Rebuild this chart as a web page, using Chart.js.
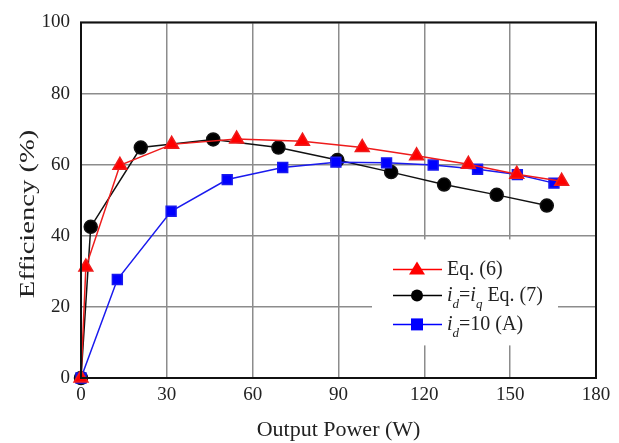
<!DOCTYPE html>
<html>
<head>
<meta charset="utf-8">
<script src="https://cdn.jsdelivr.net/npm/chart.js@4.4.0/dist/chart.umd.min.js"></script>
<style>
  html, body { margin: 0; padding: 0; background: #fff; }
  #wrap { width: 619px; height: 443px; position: relative; }
</style>
</head>
<body>
<div id="wrap"><canvas id="chart" width="619" height="443"></canvas></div>
<script>
// Eq. (6)
const eq6X = [0, 1.7, 13.6, 31.7, 54.4, 77.4, 98.3, 117.3, 135.4, 152.3, 168];
const eq6Y = [0, 31.2, 59.8, 65.7, 67.2, 66.6, 64.8, 62.5, 60.1, 57.3, 55.3];
// id = iq Eq. (7)
const eq7X = [0, 3.4, 20.9, 46.2, 69, 89.6, 108.4, 126.9, 145.3, 162.8];
const eq7Y = [0, 42.5, 64.8, 67.1, 64.8, 61.3, 57.9, 54.4, 51.5, 48.5];
// id = 10 (A)
const id10X = [0, 12.7, 31.5, 51.1, 70.5, 89.1, 106.8, 123.1, 138.6, 152.5, 165.3];
const id10Y = [0, 27.7, 46.9, 55.8, 59.2, 60.7, 60.5, 59.9, 58.7, 57.2, 54.8];

const xTicks = [0, 30, 60, 90, 120, 150, 180];
const yTicks = [0, 20, 40, 60, 80, 100];

const SERIF = '"Liberation Serif", "Times New Roman", serif';

function pts(xs, ys) {
    return xs.map(function (x, i) { return { x: x, y: ys[i] }; });
}

// frame around the plot, y title and the boxed legend
const decor = {
    id: 'decor',
    afterDatasetsDraw(chart) {
        const ctx = chart.ctx;
        const a = chart.chartArea;
        ctx.save();

        // legend box
        const bx = a.left + 291, by = a.top + 217, bw = 186, bh = 106;
        ctx.fillStyle = '#fff';
        ctx.fillRect(bx, by, bw, bh);

        const rows = [
            { color: '#ff0000', shape: 'triangle', y: by + 30 },
            { color: '#000000', shape: 'circle', y: by + 56 },
            { color: '#0000ff', shape: 'square', y: by + 85 }
        ];
        const lx0 = bx + 21, lx1 = bx + 70, mx = bx + 45, tx = bx + 75;
        rows.forEach(function (r) {
            ctx.strokeStyle = r.color;
            ctx.lineWidth = 1.5;
            ctx.beginPath();
            ctx.moveTo(lx0, r.y);
            ctx.lineTo(lx1, r.y);
            ctx.stroke();
            ctx.fillStyle = r.color;
            ctx.beginPath();
            if (r.shape === 'triangle') {
                ctx.moveTo(mx, r.y - 8);
                ctx.lineTo(mx + 8, r.y + 5);
                ctx.lineTo(mx - 8, r.y + 5);
                ctx.closePath();
            } else if (r.shape === 'circle') {
                ctx.arc(mx, r.y, 6, 0, Math.PI * 2);
            } else {
                ctx.rect(mx - 6, r.y - 6, 12, 12);
            }
            ctx.fill();
        });

        ctx.fillStyle = '#222';
        ctx.textBaseline = 'middle';
        ctx.textAlign = 'left';
        const big = '20px ' + SERIF, ital = 'italic 20px ' + SERIF, sub = 'italic 13px ' + SERIF;
        function run(parts, x, y) {
            parts.forEach(function (p) {
                ctx.font = p[1];
                ctx.fillText(p[0], x, y + (p[2] || 0));
                x += ctx.measureText(p[0]).width;
            });
        }
        run([['Eq. (6)', big]], tx, rows[0].y);
        run([['i', ital], ['d', sub, 9], ['=', big], ['i', ital], ['q', sub, 9], [' Eq. (7)', big]], tx, rows[1].y);
        run([['i', ital], ['d', sub, 9], ['=10 (A)', big]], tx, rows[2].y);

        // frame
        ctx.strokeStyle = '#111';
        ctx.lineWidth = 2;
        ctx.strokeRect(a.left, a.top, a.right - a.left, a.bottom - a.top);

        // y title, slightly stretched like the source
        ctx.translate(28, 214);
        ctx.rotate(-Math.PI / 2);
        ctx.scale(1.3, 1);
        ctx.font = '22px ' + SERIF;
        ctx.textAlign = 'center';
        ctx.fillStyle = '#222';
        ctx.fillText('Efficiency (%)', 0, 0);
        ctx.restore();
    }
};

const ctx = document.getElementById('chart').getContext('2d');
new Chart(ctx, {
    type: 'line',
    data: {
        datasets: [
            {
                label: 'Eq. (6)',
                data: pts(eq6X, eq6Y),
                borderColor: '#ee1c1c',
                backgroundColor: '#ff0000',
                pointStyle: 'triangle',
                pointRadius: 8,
                borderWidth: 1.5,
                order: 1
            },
            {
                label: 'id=10 (A)',
                data: pts(id10X, id10Y),
                borderColor: '#1a1aee',
                backgroundColor: '#0000ff',
                pointStyle: 'rect',
                pointRadius: 7,
                borderWidth: 1.5,
                order: 2
            },
            {
                label: 'id=iq Eq. (7)',
                data: pts(eq7X, eq7Y),
                borderColor: '#111',
                backgroundColor: '#000',
                pointStyle: 'circle',
                pointRadius: 6.5,
                borderWidth: 1.5,
                order: 3
            }
        ]
    },
    options: {
        responsive: false,
        animation: false,
        layout: { padding: { top: 20, right: 23, left: 0, bottom: 0 } },
        elements: {
            line: { tension: 0 },
            point: { borderWidth: 0, hoverRadius: 7 }
        },
        datasets: { line: { clip: false } },
        plugins: {
            legend: { display: false },
            tooltip: { enabled: false }
        },
        scales: {
            x: {
                type: 'linear',
                min: 0,
                max: 180,
                afterBuildTicks: function (s) { s.ticks = xTicks.map(function (v) { return { value: v }; }); },
                afterFit: function (s) { s.height = 65; },
                grid: { color: '#8c8c8c', lineWidth: 1.5, drawTicks: false },
                border: { display: false },
                ticks: { color: '#222', padding: 6, font: { family: SERIF, size: 19 } },
                title: {
                    display: true,
                    text: 'Output Power (W)',
                    color: '#222',
                    padding: { top: 4, bottom: 0 },
                    font: { family: SERIF, size: 22 }
                }
            },
            y: {
                min: 0,
                max: 100,
                afterBuildTicks: function (s) { s.ticks = yTicks.map(function (v) { return { value: v }; }); },
                afterFit: function (s) { s.width = 81; },
                grid: { color: '#8c8c8c', lineWidth: 1.5, drawTicks: false },
                border: { display: false },
                ticks: { color: '#222', padding: 11, font: { family: SERIF, size: 19 } }
            }
        }
    },
    plugins: [decor]
});
</script>
</body>
</html>
